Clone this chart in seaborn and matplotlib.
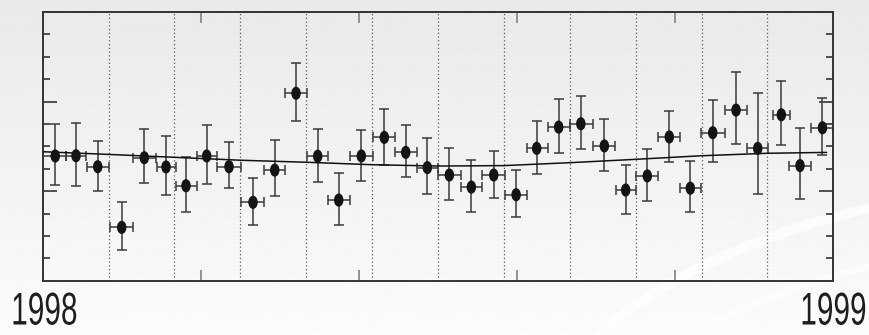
import numpy as np
import pandas as pd
import matplotlib
matplotlib.use("Agg")
import matplotlib.pyplot as plt
import seaborn as sns
from matplotlib.markers import MarkerStyle
from matplotlib.transforms import Affine2D
from matplotlib.patches import Arc
from matplotlib.patheffects import AbstractPathEffect

# ---- data (x in months from start of 1998, y in arbitrary units) ----
x_pts = [0.19, 0.505, 0.835, 1.199, 1.542, 1.872, 2.175, 2.489, 2.828, 3.192, 3.522, 3.845,
         4.174, 4.493, 4.836, 5.185, 5.510, 5.838, 6.172, 6.506, 6.846, 7.186, 7.498, 7.832,
         8.168, 8.525, 8.849, 9.177, 9.511, 9.830, 10.170, 10.524, 10.853, 11.211, 11.495, 11.836]
x_lo = [0.009, 0.354, 0.668, 1.02, 1.375, 1.73, 2.02, 2.34, 2.65, 3.01, 3.364, 3.683,
        4.007, 4.335, 4.665, 5.009, 5.348, 5.682, 6.005, 6.349, 6.668, 7.022, 7.347, 7.665,
        8.004, 8.358, 8.698, 9.006, 9.345, 9.674, 9.988, 10.357, 10.686, 11.08, 11.333, 11.658]
x_hi = [0.354, 0.657, 1.006, 1.366, 1.72, 2.02, 2.34, 2.65, 3.005, 3.364, 3.683, 4.007,
        4.335, 4.665, 5.009, 5.348, 5.682, 6.005, 6.349, 6.668, 7.017, 7.347, 7.665, 8.004,
        8.358, 8.687, 9.006, 9.345, 9.674, 9.988, 10.357, 10.686, 11.014, 11.345, 11.658, 12.0]
y_pts = [5.57, 5.58, 5.09, 2.38, 5.49, 5.08, 4.24, 5.57, 5.09, 3.50, 4.94, 8.37,
         5.56, 3.60, 5.57, 6.40, 5.73, 5.05, 4.72, 4.18, 4.72, 3.84, 5.91, 6.86,
         7.01, 6.02, 4.05, 4.68, 6.42, 4.13, 6.61, 7.62, 5.91, 7.41, 5.14, 6.83]
y_top = [7.00, 7.06, 6.23, 3.53, 6.76, 6.48, 5.54, 6.97, 6.21, 4.60, 6.27, 9.74,
         6.78, 4.81, 6.74, 7.68, 6.94, 6.39, 5.94, 5.40, 5.79, 4.96, 7.15, 8.12,
         8.25, 7.24, 5.18, 5.90, 7.58, 5.33, 8.06, 9.33, 8.37, 8.91, 6.81, 8.15]
y_bot = [4.27, 4.24, 4.02, 1.37, 4.35, 3.84, 3.08, 4.31, 4.13, 2.47, 3.78, 7.15,
         4.41, 2.50, 4.47, 5.18, 4.63, 3.87, 3.62, 3.08, 3.71, 2.83, 4.78, 5.70,
         5.87, 4.89, 2.99, 3.57, 5.30, 3.05, 5.31, 6.11, 3.89, 6.06, 3.66, 5.60]

# smooth fitted trend
fit_x = [0, 1, 2, 3, 4, 5, 6, 7, 8, 9, 10, 11, 11.9]
fit_y = [5.76, 5.64, 5.51, 5.38, 5.29, 5.18, 5.12, 5.14, 5.27, 5.42, 5.58, 5.69, 5.73]

month_lines = [1, 2, 3, 4, 5, 6, 7, 8, 9, 10, 11]
edge_ticks = [2.4, 4.8, 7.2, 9.6]
start_label = "1998"
end_label = "1999"

df = pd.DataFrame({"x": x_pts, "y": y_pts})
fit = pd.DataFrame({"x": fit_x, "y": fit_y})

sns.set_theme(style="white")
plt.rcParams["font.family"] = ["Liberation Sans", "DejaVu Sans"]


class NarrowText(AbstractPathEffect):
    """Draw text glyphs horizontally condensed (text stays a Text artist)."""

    def __init__(self, sx, anchor="left"):
        super().__init__()
        self.sx = sx
        self.anchor = anchor

    def draw_path(self, renderer, gc, tpath, affine, rgbFace=None):
        ext = tpath.get_extents(affine)
        x0 = ext.x0 if self.anchor == "left" else ext.x1
        aff = affine + Affine2D().translate(-x0, 0).scale(self.sx, 1.0).translate(x0, 0)
        renderer.draw_path(gc, tpath, aff, rgbFace)


fig = plt.figure(figsize=(8.7, 3.35), dpi=100)

# background gradient with faint swooshes
bg = fig.add_axes([0, 0, 1, 1], zorder=-10)
grad = np.linspace(0.915, 0.985, 256).reshape(-1, 1)
bg.imshow(grad, aspect="auto", cmap="gray", vmin=0, vmax=1, extent=[0, 1, 0, 1], origin="upper")
bg.set_xlim(0, 1)
bg.set_ylim(0, 1)
bg.axis("off")
for (cx, cy, w, h, t1, t2, lw, col, a) in [
    (1.25, -0.55, 1.35, 2.0, 100, 165, 7, "white", 0.75),
    (1.30, -0.75, 1.45, 2.1, 100, 160, 5, "white", 0.6),
    (1.35, -0.95, 1.30, 2.0, 95, 150, 9, "white", 0.5),
    (1.20, -1.10, 0.9, 1.4, 90, 140, 10, "#d9d9d9", 0.55),
]:
    bg.add_patch(Arc((cx, cy), w, h, theta1=t1, theta2=t2, lw=lw, color=col, alpha=a))

ax = fig.add_axes([0.0491, 0.1621, 0.9087, 0.8021])
ax.set_facecolor("none")

for xv in month_lines:
    ax.axvline(xv, color="#5a5a5a", lw=0.9, ls=(0, (1, 2.0)), zorder=1)

xerr = [np.array(x_pts) - np.array(x_lo), np.array(x_hi) - np.array(x_pts)]
yerr = [np.array(y_pts) - np.array(y_bot), np.array(y_top) - np.array(y_pts)]
ax.errorbar(x_pts, y_pts, xerr=xerr, yerr=yerr, fmt="none", ecolor="#3a3a3a",
            elinewidth=1.1, capsize=3.4, capthick=1.1, zorder=2)

sns.lineplot(data=fit, x="x", y="y", ax=ax, color="#111111", lw=1.1, zorder=3)

ell = MarkerStyle("o", transform=Affine2D().scale(0.72, 1.0))
sns.scatterplot(data=df, x="x", y="y", ax=ax, marker=ell, s=90, color="#141414",
                edgecolor="none", zorder=4)

ax.set_xlim(0, 12)
ax.set_ylim(0, 12)
ax.set_xlabel("")
ax.set_ylabel("")
ax.set_xticks(edge_ticks)
ax.set_xticklabels([])
ax.tick_params(axis="x", which="major", direction="in", top=True, bottom=True,
               length=8, width=1.3, color="#8a8a8a")
ax.set_yticks([4, 8])
ax.set_yticks([1, 2, 3, 5, 6, 7, 9, 10, 11], minor=True)
ax.set_yticklabels([])
ax.tick_params(axis="y", which="major", direction="in", left=True, right=True,
               length=10, width=1.2, color="#333333")
ax.tick_params(axis="y", which="minor", direction="in", left=True, right=True,
               length=5.2, width=1.2, color="#333333")
for s in ax.spines.values():
    s.set_visible(True)
    s.set_color("#333333")
    s.set_linewidth(1.4)

t1 = fig.text(10 / 870, 0.5 / 335, start_label, fontsize=33, color="#1e1e1e",
              ha="left", va="bottom")
t1.set_path_effects([NarrowText(0.65, "left")])
t2 = fig.text(867 / 870, 0.5 / 335, end_label, fontsize=33, color="#1e1e1e",
              ha="right", va="bottom")
t2.set_path_effects([NarrowText(0.65, "right")])

fig.savefig("out.png", dpi=100)
